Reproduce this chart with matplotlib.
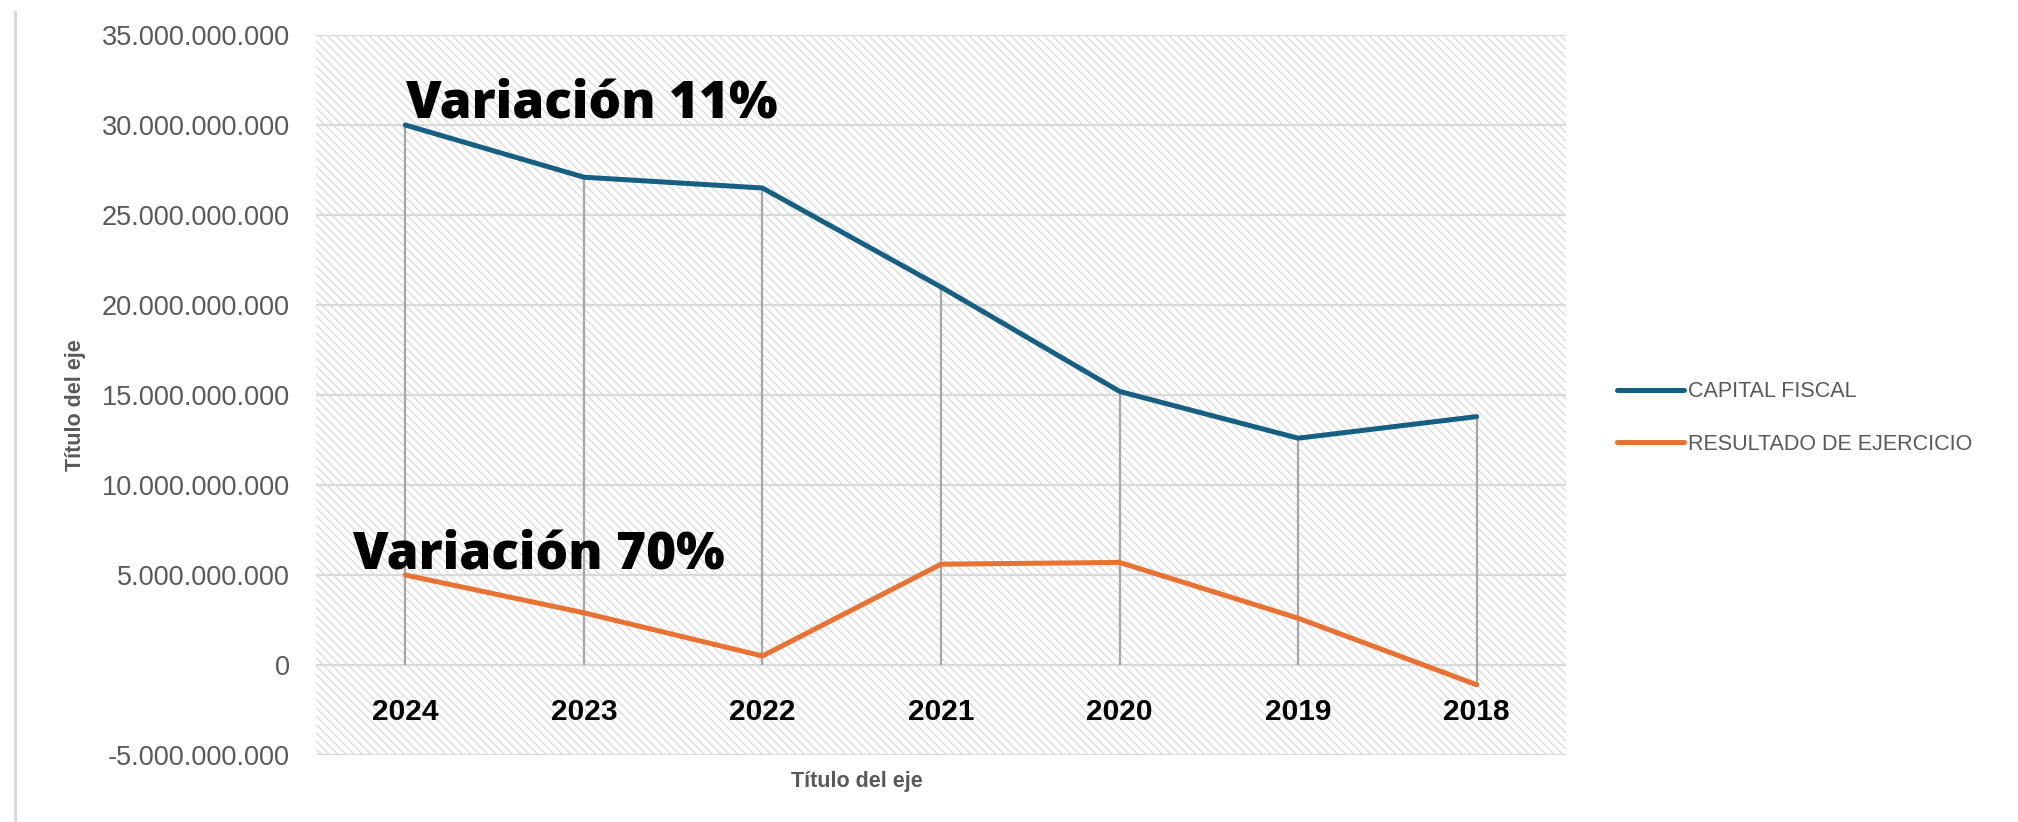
import matplotlib
matplotlib.use("Agg")
import matplotlib.pyplot as plt
from matplotlib.lines import Line2D
from matplotlib.ticker import FuncFormatter, MultipleLocator

# data
years = ["2024", "2023", "2022", "2021", "2020", "2019", "2018"]
capital_fiscal = [30.0e9, 27.1e9, 26.5e9, 21.0e9, 15.2e9, 12.6e9, 13.8e9]
resultado_ejercicio = [5.0e9, 2.9e9, 0.5e9, 5.6e9, 5.7e9, 2.6e9, -1.1e9]
series_names = ["CAPITAL FISCAL", "RESULTADO DE EJERCICIO"]
notes = ["Variación 11%", "Variación 70%"]

BLUE = "#156082"
ORANGE = "#E97132"
GRID = "#d9d9d9"
TEXT = "#595959"

plt.rcParams["font.family"] = ["Liberation Sans", "DejaVu Sans"]
plt.rcParams["hatch.color"] = "#dcdcdc"
plt.rcParams["hatch.linewidth"] = 1.0

fig = plt.figure(figsize=(20.18, 8.22), dpi=100)
ax = fig.add_axes([316 / 2018, 1 - 755 / 822, 1250 / 2018, 720 / 822])

# hatched plot area
ax.patch.set_facecolor("white")
ax.patch.set_edgecolor("#dcdcdc")
ax.patch.set_linewidth(0)
ax.patch.set_hatch("\\\\\\\\")

x = list(range(len(years)))

# drop lines
lows = [min(0, c, r) for c, r in zip(capital_fiscal, resultado_ejercicio)]
highs = [max(c, r) for c, r in zip(capital_fiscal, resultado_ejercicio)]
ax.vlines(x, lows, highs, color="#a6a6a6", lw=1.6, zorder=2)

ax.plot(x, capital_fiscal, color=BLUE, lw=3.6, label=series_names[0],
        solid_capstyle="round", zorder=3)
ax.plot(x, resultado_ejercicio, color=ORANGE, lw=3.6, label=series_names[1],
        solid_capstyle="round", zorder=3)

ax.set_xlim(-0.5, len(years) - 0.5)
ax.set_ylim(-5e9, 35e9)
ax.yaxis.set_major_locator(MultipleLocator(5e9))
ax.yaxis.set_major_formatter(FuncFormatter(lambda v, p: f"{int(round(v)):,}".replace(",", ".")))
ax.grid(axis="y", color=GRID, lw=1.6, zorder=1)
ax.set_axisbelow(True)

for s in ax.spines.values():
    s.set_visible(False)
ax.spines["bottom"].set_position(("data", 0))

ax.set_xticks(x)
ax.set_xticklabels(years)
ax.tick_params(axis="x", length=0, pad=24, labelsize=21.5, labelcolor="black")
for t in ax.get_xticklabels():
    t.set_fontweight("bold")
ax.tick_params(axis="y", length=0, pad=19, labelsize=19.5, labelcolor=TEXT)

fig.text(857 / 2018, 1 - 781 / 822, "Título del eje", ha="center", va="center",
         fontsize=15.5, fontweight="bold", color=TEXT)
fig.text(75 / 2018, 1 - 405 / 822, "Título del eje", ha="center", va="center",
         rotation=90, fontsize=15.5, fontweight="bold", color=TEXT)

# annotations
ax.annotate(notes[0], xy=(0, capital_fiscal[0]), xytext=(0, 7), textcoords="offset pixels",
            ha="left", va="baseline", fontsize=37, fontweight="heavy",
            family=["Open Sans", "DejaVu Sans"], color="black", zorder=5)
ax.annotate(notes[1], xy=(0, resultado_ejercicio[0]), xytext=(-53, 7), textcoords="offset pixels",
            ha="left", va="baseline", fontsize=37, fontweight="heavy",
            family=["Open Sans", "DejaVu Sans"], color="black", zorder=5)

fig.legend(loc="center left", bbox_to_anchor=(1617 / 2018, 1 - 418 / 822),
           frameon=False, fontsize=15.5, labelcolor=TEXT, handlelength=3.1,
           handletextpad=0.2, labelspacing=1.45, borderpad=0, borderaxespad=0)

# left border of the chart area
fig.add_artist(Line2D([15 / 2018, 15 / 2018], [1 - 12 / 822, 0], color=GRID, lw=2.2))

fig.savefig("out.png", dpi=100, facecolor="white")
